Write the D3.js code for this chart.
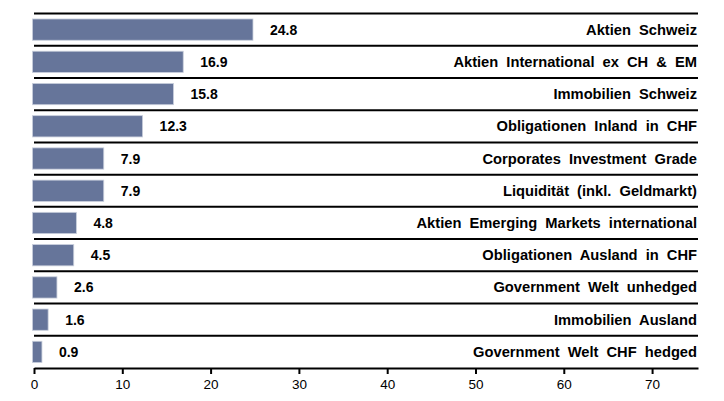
<!DOCTYPE html>
<html>
<head>
<meta charset="utf-8">
<script src="https://cdn.jsdelivr.net/npm/d3@7"></script>
<style>
  body { margin: 0; background: #fff; }
  svg { display: block; font-family: "Liberation Sans", Arial, sans-serif; }
</style>
</head>
<body>
<div id="chart"></div>
<script>
const categories = [
  "Aktien Schweiz",
  "Aktien International ex CH & EM",
  "Immobilien Schweiz",
  "Obligationen Inland in CHF",
  "Corporates Investment Grade",
  "Liquidität (inkl. Geldmarkt)",
  "Aktien Emerging Markets international",
  "Obligationen Ausland in CHF",
  "Government Welt unhedged",
  "Immobilien Ausland",
  "Government Welt CHF hedged"
];
const values = [24.8, 16.9, 15.8, 12.3, 7.9, 7.9, 4.8, 4.5, 2.6, 1.6, 0.9];
const xTicks = [0, 10, 20, 30, 40, 50, 60, 70];

const width = 724, height = 401;
const plotLeft = 34, plotRight = 698, plotTop = 13.5, plotBottom = 368;

const svg = d3.select("#chart").append("svg")
  .attr("width", width).attr("height", height);

const x = d3.scaleLinear().domain([0, 75.2]).range([plotLeft, plotRight]);
const y = d3.scaleBand().domain(categories).range([plotTop, plotBottom]).paddingInner(0.34).paddingOuter(0.17);
const step = y.step();

// row separators
svg.append("g").selectAll("line")
  .data(categories)
  .join("line")
  .attr("x1", plotLeft).attr("x2", plotRight)
  .attr("y1", d => y(d) - y.paddingOuter() * step)
  .attr("y2", d => y(d) - y.paddingOuter() * step)
  .attr("stroke", "#000").attr("stroke-width", 2);

// bars
svg.append("g").selectAll("rect")
  .data(values)
  .join("rect")
  .attr("x", x(0) - 1.5)
  .attr("y", (d, i) => y(categories[i]))
  .attr("width", d => x(d) - x(0) + 1.5)
  .attr("height", y.bandwidth())
  .attr("fill", "#66759a")
  .attr("stroke", "#c9cfdc").attr("stroke-width", 0.8);

// value labels
svg.append("g").selectAll("text")
  .data(values)
  .join("text")
  .attr("x", d => x(d) + 17)
  .attr("y", (d, i) => y(categories[i]) + y.bandwidth() / 2 + 5)
  .attr("font-size", 14).attr("font-weight", "bold")
  .attr("fill", "#000")
  .text(d => d.toFixed(1));

// category labels
svg.append("g").selectAll("text")
  .data(categories)
  .join("text")
  .attr("x", plotRight - 1)
  .attr("y", d => y(d) + y.bandwidth() / 2 + 5)
  .attr("text-anchor", "end")
  .attr("font-size", 14.7).attr("font-weight", "bold")
  .attr("word-spacing", 4)
  .attr("fill", "#000")
  .text(d => d);

// x axis
const axis = svg.append("g")
  .attr("transform", `translate(0,${plotBottom})`)
  .call(d3.axisBottom(x).tickValues(xTicks).tickSize(6).tickSizeOuter(0).tickPadding(5));
axis.select(".domain").attr("stroke", "#000").attr("stroke-width", 2);
axis.selectAll(".tick line").attr("stroke", "#000").attr("stroke-width", 2);
axis.selectAll(".tick text")
  .attr("font-size", 13.5)
  .attr("font-family", "Liberation Sans, Arial, sans-serif")
  .attr("fill", "#000");
</script>
</body>
</html>
